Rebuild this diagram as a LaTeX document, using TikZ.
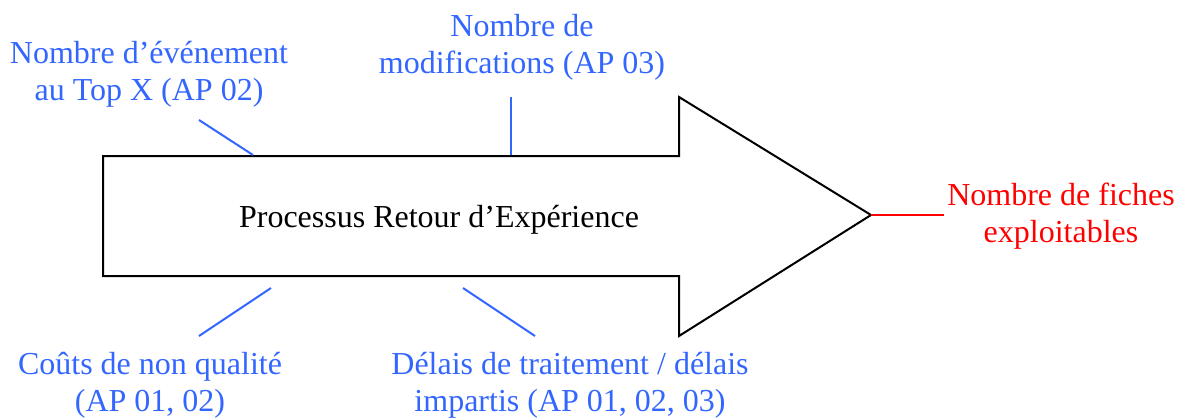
\documentclass[tikz,border=0pt]{standalone}
\usepackage{fontspec}
\setmainfont{Liberation Serif}
\definecolor{indblue}{RGB}{51,102,255}
\definecolor{indred}{RGB}{255,0,0}
\begin{document}
\begin{tikzpicture}[x=0.5pt, y=-0.5pt,
  lbl/.style={align=center, inner sep=0pt, font=\rmfamily\fontsize{16}{18.5}\selectfont},
  tick/.style={draw=indblue, line width=1pt}]
\useasboundingbox (0,0) rectangle (1177,418);
% big process arrow
\draw[line width=1pt] (103,156) -- (679,156) -- (679,97) -- (871,215) coordinate (tip)
  -- (679,336) -- (679,276) -- (103,276) -- cycle;
\node[lbl] (proc) at (439,220) {Processus Retour d'Expérience};
% indicators
\node[lbl, text=indblue] (evt) at (149,74) {Nombre d'événement\\au Top X (AP 02)};
\node[lbl, text=indblue] (modif) at (522,47) {Nombre de\\modifications (AP 03)};
\node[lbl, text=indblue] (couts) at (150,385) {Coûts de non qualité\\(AP 01, 02)};
\node[lbl, text=indblue] (delais) at (570,385) {Délais de traitement / délais\\impartis (AP 01, 02, 03)};
\node[lbl, text=indred] (fiches) at (1061,216) {Nombre de fiches\\exploitables};
% ticks
\coordinate (e1) at (199,120); \coordinate (e2) at (253,155);
\coordinate (m1) at (511,97);  \coordinate (m2) at (511,155);
\coordinate (c1) at (199,336); \coordinate (c2) at (271,288);
\coordinate (d1) at (463,288); \coordinate (d2) at (535,336);
\draw[tick] (e1) -- (e2);
\draw[tick] (m1) -- (m2);
\draw[tick] (c2) -- (c1);
\draw[tick] (d1) -- (d2);
\draw[indred, line width=1pt] (tip) -- ++(73,0);
\end{tikzpicture}
\end{document}
